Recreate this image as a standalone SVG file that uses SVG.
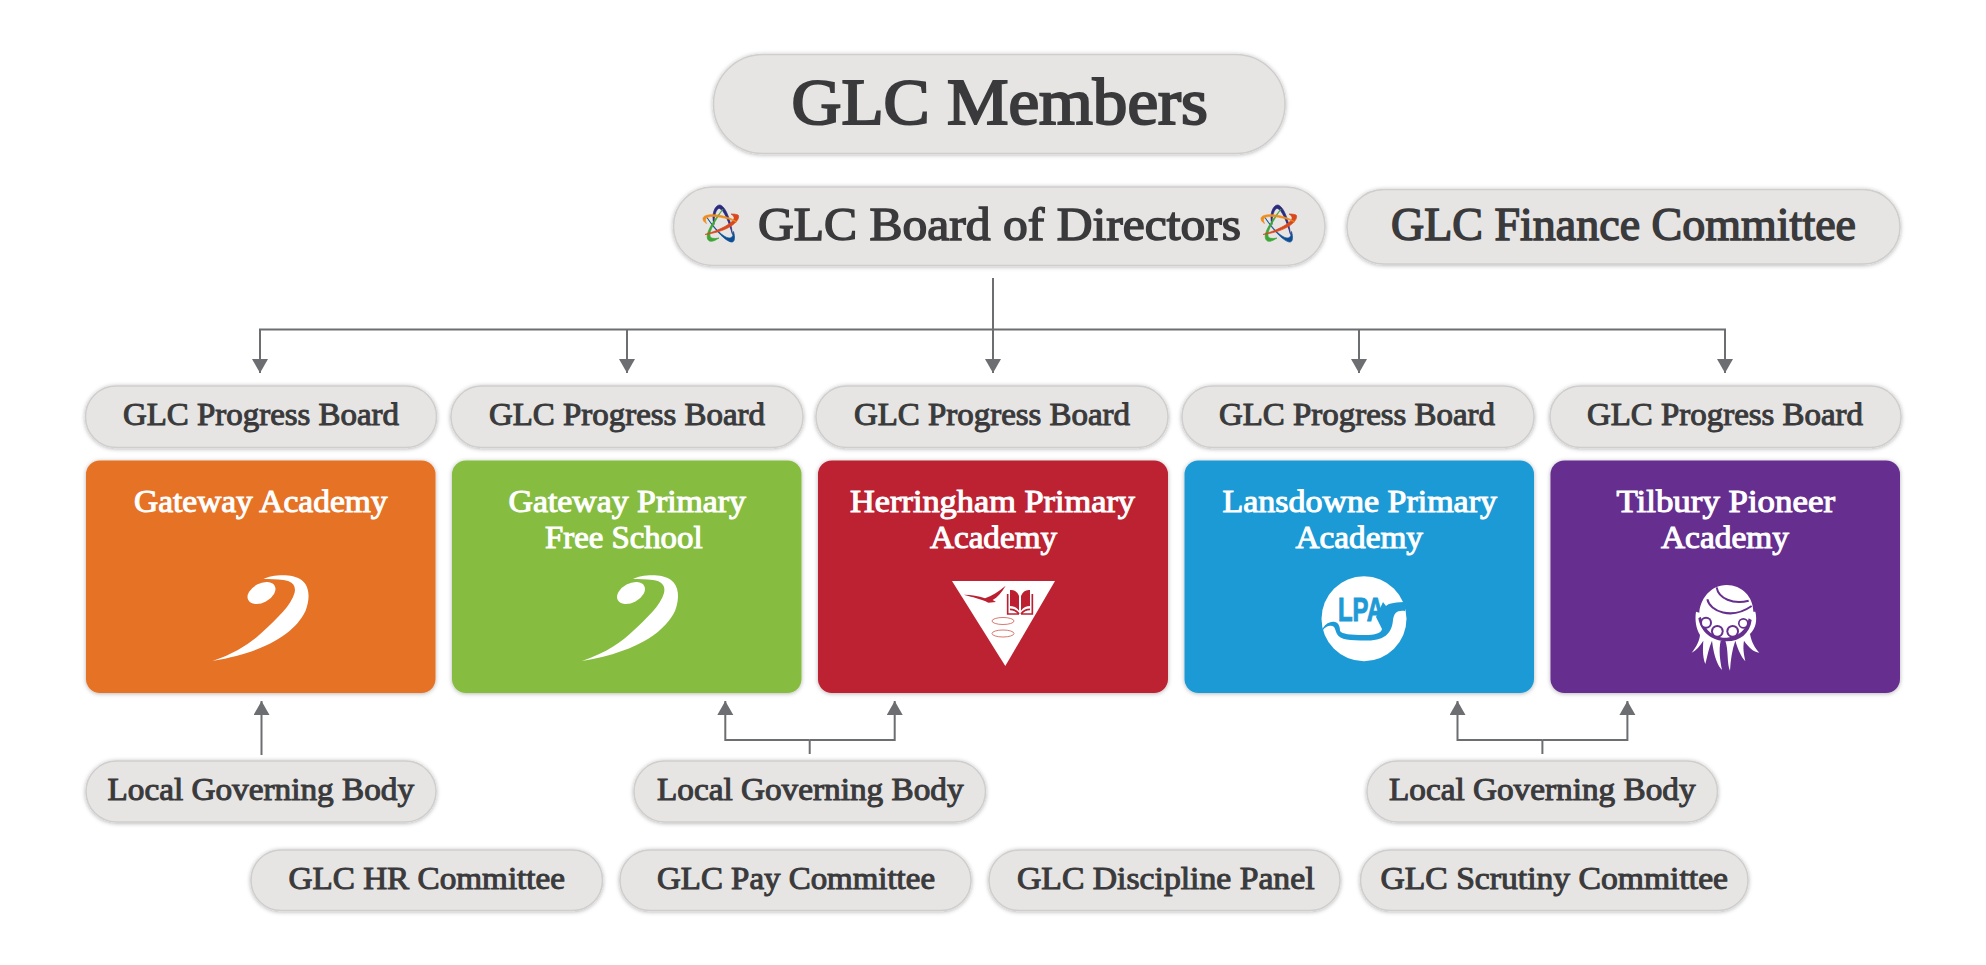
<svg xmlns="http://www.w3.org/2000/svg" xmlns:xlink="http://www.w3.org/1999/xlink" width="1986" height="965" viewBox="0 0 1986 965">
<style>
text{font-family:"Liberation Serif","Times New Roman",serif;font-weight:normal}
.pill{fill:#e6e5e3;stroke:#cfcecd;stroke-width:1.500;filter:url(#sh)}
.card{filter:url(#sh)}
.dk{fill:#3a3a3c;stroke:#3a3a3c}
.wh{fill:#fff;stroke:#fff}
.s30{font-size:30.500px;stroke-width:1px}
.s47{font-size:47px;stroke-width:1.500px}
.s65{font-size:65px;stroke-width:2.100px}
.ln{fill:none;stroke:#6d6e71;stroke-width:2;marker-end:url(#ah)}
.pl{fill:none;stroke:#6d6e71;stroke-width:2}
</style>
<defs>
<filter id="sh" x="-5%" y="-10%" width="110%" height="125%"><feDropShadow dx="0" dy="0.700" stdDeviation="2" flood-color="#000" flood-opacity="0.3"/></filter>
<marker id="ah" markerUnits="userSpaceOnUse" markerWidth="17" markerHeight="17" refX="14" refY="8" orient="auto"><path d="M0 0L14 8L0 16Z" fill="#6d6e71"/></marker>
<g id="star" stroke-width=".7">
<path d="M-6 1C-9-9-5-19 0-18.500C6-17 11-2 12.500 11C9-1 4-14-.5-15C-4-15.500-6-7-6 1Z" fill="#2b2a7f" stroke="#2b2a7f"/>
<path d="M-13-6C-6 4 3 14 9 14.500C12 14.800 13.500 12 13.500 8C15 13 15 18.500 12 18.500C7 19-5 7-13-6Z" fill="#0d4f92" stroke="#0d4f92"/>
<path d="M-10.500 17.500C-15 15-14 6 3-14.500C-6-1-11 8-10 12.500C-9.500 15-6 15.500-1 14.500C-5 17-8 18.500-10.500 17.500Z" fill="#3ea536" stroke="#3ea536"/>
<path d="M18.500-8C20-2 8 8-15 11C2 6 13-1 14-5C14.500-7 13-8 11-9.500C15-9.500 18-9 18.500-8Z" fill="#d9481c" stroke="#d9481c"/>
<path d="M-17-5C-17-11 5-10 17-1.500C6-6-6-8-12-6.500C-15-5.500-15-3-13.500 0C-16-1.500-17-3-17-5Z" fill="#ee8c1c" stroke="#ee8c1c"/>
</g>
<g id="swoosh" fill="#fff">
<ellipse cx="0" cy="0" rx="15" ry="9.500" transform="rotate(-28)"/>
<path d="M2-14C10-18 30-20 40-13C48-7 49 5 44 18C36 35 12 58-49 68C-25 60-8 48 2 38C15 26 30 12 33 0C35-8 30-12 22-13C15-14 8-14 2-14Z"/>
</g>
</defs>

<g id="connectors">
<path class="ln" d="M993 278V373"/>
<path class="pl" d="M259 329.500H1726"/>
<path class="ln" d="M260 329.500V373"/>
<path class="ln" d="M627 329.500V373"/>
<path class="ln" d="M1359 329.500V373"/>
<path class="ln" d="M1725 329.500V373"/>
<path class="ln" d="M261.500 755V701"/>
<path class="pl" d="M809.700 754V740"/>
<path class="ln" d="M809.700 740H725.300V701"/>
<path class="ln" d="M809.700 740H894.700V701"/>
<path class="pl" d="M1542.400 754V740"/>
<path class="ln" d="M1542.400 740H1457.500V701"/>
<path class="ln" d="M1542.400 740H1627.400V701"/>
</g>

<g id="members"><rect class="pill" x="713.500" y="54.500" width="571.500" height="99" rx="49.500"/>
<text class="dk s65" x="791.500" y="123.500" textLength="416.500" lengthAdjust="spacingAndGlyphs">GLC Members</text></g>

<g id="board"><rect class="pill" x="673.500" y="187" width="651.500" height="78.500" rx="39"/>
<use href="#star" xlink:href="#star" x="720" y="223.500"/>
<use href="#star" xlink:href="#star" x="1278" y="223.500"/>
<text class="dk s47" x="758" y="240" textLength="483" lengthAdjust="spacingAndGlyphs">GLC Board of Directors</text></g>

<g id="finance"><rect class="pill" x="1347" y="189.500" width="553" height="74.500" rx="37"/>
<text class="dk s47" x="1391" y="240" textLength="465" lengthAdjust="spacingAndGlyphs">GLC Finance Committee</text></g>

<g id="progress1"><rect class="pill" x="85.500" y="386" width="351" height="61.500" rx="30.500"/>
<text class="dk s30" x="123" y="424.500" textLength="276" lengthAdjust="spacingAndGlyphs">GLC Progress Board</text></g>
<g id="progress2"><rect class="pill" x="451" y="386" width="352" height="61.500" rx="30.500"/>
<text class="dk s30" x="489" y="424.500" textLength="276" lengthAdjust="spacingAndGlyphs">GLC Progress Board</text></g>
<g id="progress3"><rect class="pill" x="816" y="386" width="352" height="61.500" rx="30.500"/>
<text class="dk s30" x="854" y="424.500" textLength="276" lengthAdjust="spacingAndGlyphs">GLC Progress Board</text></g>
<g id="progress4"><rect class="pill" x="1182" y="386" width="352" height="61.500" rx="30.500"/>
<text class="dk s30" x="1219" y="424.500" textLength="276" lengthAdjust="spacingAndGlyphs">GLC Progress Board</text></g>
<g id="progress5"><rect class="pill" x="1550" y="386" width="351" height="61.500" rx="30.500"/>
<text class="dk s30" x="1587" y="424.500" textLength="276" lengthAdjust="spacingAndGlyphs">GLC Progress Board</text></g>

<g id="gateway">
<rect class="card" x="86" y="460.500" width="349.500" height="232.500" rx="14" fill="#e67225"/>
<text class="wh s30" x="134" y="511.500" textLength="253.500" lengthAdjust="spacingAndGlyphs">Gateway Academy</text>
<use href="#swoosh" xlink:href="#swoosh" x="261.500" y="593"/>
</g>
<g id="gateway-primary">
<rect class="card" x="452" y="460.500" width="349.500" height="232.500" rx="14" fill="#86bd40"/>
<text class="wh s30" x="508.500" y="511.500" textLength="237.500" lengthAdjust="spacingAndGlyphs">Gateway Primary</text>
<text class="wh s30" x="545" y="547.500" textLength="157.500" lengthAdjust="spacingAndGlyphs">Free School</text>
<use href="#swoosh" xlink:href="#swoosh" x="631" y="593"/>
</g>
<g id="herringham">
<rect class="card" x="818" y="460.500" width="350" height="232.500" rx="14" fill="#bc2030"/>
<text class="wh s30" x="850" y="511.500" textLength="285" lengthAdjust="spacingAndGlyphs">Herringham Primary</text>
<text class="wh s30" x="930" y="547.500" textLength="127" lengthAdjust="spacingAndGlyphs">Academy</text>
<path d="M952 581H1055L1005.300 666Z" fill="#fff"/>
<g transform="translate(960 580) scale(.33333)" fill="#bc2030">
<path d="M12 44C35 44 55 48 75 55C95 48 115 35 137 17C125 38 112 52 98 60L108 66L85 68C75 62 60 58 40 52C30 49 20 47 12 44Z"/>
<path d="M150 30C162 28 172 35 177 48V92C170 82 160 78 150 78ZM210 30C198 28 188 35 183 48V92C190 82 200 78 210 78Z"/>
<path d="M143 42V102H177M217 42V102H183M150 88C160 88 170 92 177 102M210 88C200 88 190 92 183 102" fill="none" stroke="#bc2030" stroke-width="5"/>
</g>
<ellipse cx="1003" cy="621" rx="11" ry="3.500" fill="none" stroke="#d9796f"/>
<ellipse cx="1003" cy="633.500" rx="11" ry="3.500" fill="none" stroke="#d9796f"/>
</g>
<g id="lansdowne">
<rect class="card" x="1184.500" y="460.500" width="349.500" height="232.500" rx="14" fill="#1e9ad6"/>
<text class="wh s30" x="1222.500" y="511.500" textLength="274.500" lengthAdjust="spacingAndGlyphs">Lansdowne Primary</text>
<text class="wh s30" x="1295.500" y="547.500" textLength="127.500" lengthAdjust="spacingAndGlyphs">Academy</text>
<circle cx="1364" cy="618.700" r="42.500" fill="#fff"/>
<text x="1338" y="620.700" textLength="46" lengthAdjust="spacingAndGlyphs" style="font-family:'Liberation Sans',Arial,sans-serif;font-size:33px;font-weight:bold;stroke:#1e9ad6;stroke-width:1px" fill="#1e9ad6">LPA</text>
<path d="M1323 628C1326 623 1331 621 1335 622C1339 623 1340 627 1340 631C1342 634 1350 635 1364 635C1376 635 1381 633 1382 629L1376 617L1383 602L1386 606C1389 603 1396 602 1408 602L1405 611C1397 610 1394 613 1393 620C1392 631 1387 641 1366 640.500C1350 640.500 1340 640 1337 634C1335 630 1335 626 1332 626C1329 625 1325 627 1323 630Z" fill="#1e9ad6"/>
</g>
<g id="tilbury">
<rect class="card" x="1550.500" y="460.500" width="349.500" height="232.500" rx="14" fill="#662f8e"/>
<text class="wh s30" x="1616.500" y="511.500" textLength="218.500" lengthAdjust="spacingAndGlyphs">Tilbury Pioneer</text>
<text class="wh s30" x="1661" y="547.500" textLength="128" lengthAdjust="spacingAndGlyphs">Academy</text>
<g transform="translate(1670 570) scale(.33333)">
<path fill="#fff" d="M170 45C215 45 250 80 250 125L256 125C262 150 258 175 240 192C244 215 255 235 268 248C250 246 236 232 222 212C218 235 222 252 226 274C212 258 204 238 196 212C186 240 182 270 180 302C170 280 176 240 166 212L152 212C146 240 150 270 156 300C142 285 132 260 126 212C116 235 112 258 106 282C98 262 98 238 100 212C90 228 78 242 65 248C78 232 88 215 90 195C78 175 74 150 78 125L88 128C90 90 120 45 170 45Z"/>
<g fill="none" stroke="#662f8e" stroke-width="6">
<path d="M140 52C145 85 190 105 236 92"/>
<path d="M112 88C120 125 185 150 245 108"/>
</g>
<path fill="#662f8e" d="M92 140C100 175 130 205 170 203C205 201 230 180 236 145L245 150C240 190 210 214 170 214C125 214 92 185 85 145Z"/>
<g fill="#662f8e"><circle cx="108" cy="158" r="18"/><circle cx="142" cy="184" r="19"/><circle cx="188" cy="184" r="19"/><circle cx="220" cy="160" r="16"/></g>
<g fill="#fff"><circle cx="108" cy="158" r="12"/><circle cx="142" cy="184" r="13"/><circle cx="188" cy="184" r="13"/><circle cx="220" cy="160" r="11"/></g>
</g>
</g>

<g id="lgb1"><rect class="pill" x="86" y="761" width="350" height="61" rx="30.500"/>
<text class="dk s30" x="107.500" y="800" textLength="306.500" lengthAdjust="spacingAndGlyphs">Local Governing Body</text></g>
<g id="lgb2"><rect class="pill" x="634" y="761" width="351.500" height="61" rx="30.500"/>
<text class="dk s30" x="657" y="800" textLength="306.500" lengthAdjust="spacingAndGlyphs">Local Governing Body</text></g>
<g id="lgb3"><rect class="pill" x="1367" y="761" width="350.500" height="61" rx="30.500"/>
<text class="dk s30" x="1389" y="800" textLength="306.500" lengthAdjust="spacingAndGlyphs">Local Governing Body</text></g>

<g id="hr"><rect class="pill" x="251" y="850" width="351.500" height="60.500" rx="30"/>
<text class="dk s30" x="288.500" y="889" textLength="276.500" lengthAdjust="spacingAndGlyphs">GLC HR Committee</text></g>
<g id="pay"><rect class="pill" x="620" y="850" width="351" height="60.500" rx="30"/>
<text class="dk s30" x="657" y="889" textLength="278" lengthAdjust="spacingAndGlyphs">GLC Pay Committee</text></g>
<g id="discipline"><rect class="pill" x="989" y="850" width="351" height="60.500" rx="30"/>
<text class="dk s30" x="1017" y="889" textLength="297.500" lengthAdjust="spacingAndGlyphs">GLC Discipline Panel</text></g>
<g id="scrutiny"><rect class="pill" x="1360.500" y="850" width="387.500" height="60.500" rx="30"/>
<text class="dk s30" x="1380.500" y="889" textLength="347.500" lengthAdjust="spacingAndGlyphs">GLC Scrutiny Committee</text></g>
</svg>
